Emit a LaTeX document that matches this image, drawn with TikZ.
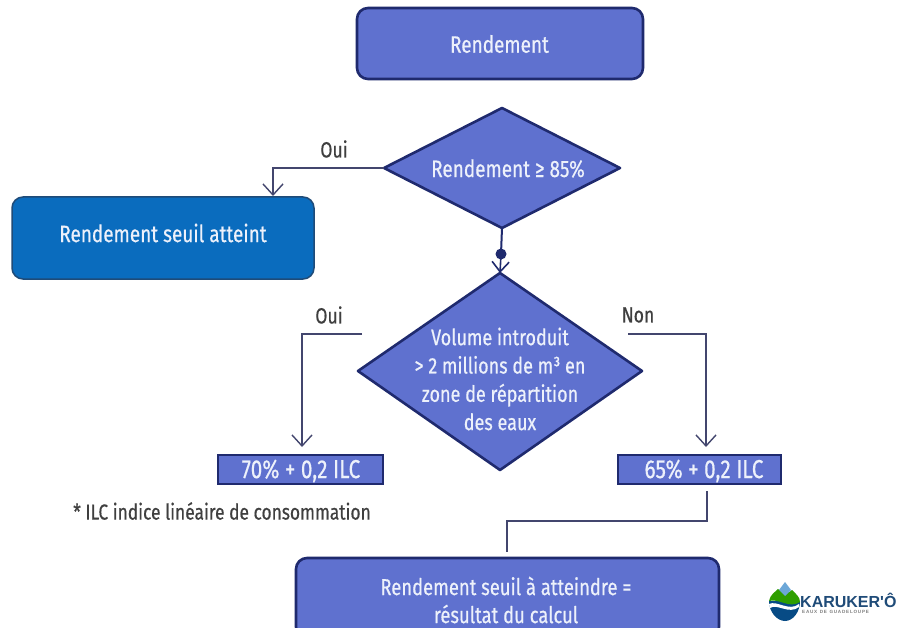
\documentclass[tikz,border=0pt]{standalone}
\usepackage{fontspec}
\setmainfont[FakeStretch=0.8,FakeBold=0.5]{Fira Sans}
\newfontfamily\logofont{Liberation Sans}
\usetikzlibrary{arrows.meta}
\definecolor{fillblue}{HTML}{5F71CF}
\definecolor{edgeblue}{HTML}{1F2A6E}
\definecolor{royal}{HTML}{0A6CBE}
\definecolor{royaledge}{HTML}{1F4B78}
\definecolor{linecol}{HTML}{43466E}
\definecolor{txtlight}{HTML}{EDF1FB}
\definecolor{labelcol}{HTML}{3F3F3F}
\tikzset{
  bluebox/.style={draw=edgeblue,line width=2.6pt,fill=fillblue,rounded corners=11pt,inner sep=0pt},
  flatbox/.style={draw=edgeblue,line width=2.6pt,fill=fillblue,inner sep=0pt},
  tealbox/.style={draw=royaledge,line width=1.5pt,fill=royal,rounded corners=11pt,inner sep=0pt},
  choiceline/.style={draw=edgeblue,line width=2.6pt,fill=fillblue,line join=round},
  lighttext/.style={text=txtlight,font=\fontsize{23.7}{28}\selectfont,align=center,inner sep=0pt},
  ilctext/.style={text=txtlight,font=\fontsize{26}{28}\selectfont,inner sep=0pt},
  link/.style={draw=linecol,line width=1.4pt},
  arrowlink/.style={link,-{Straight Barb[length=11pt,width=20pt,line width=1.4pt]}},
  caption/.style={text=labelcol,font=\fontsize{22}{24}\selectfont,inner sep=0pt},
}
\begin{document}
\begin{tikzpicture}[x=1pt,y=-1pt]
\useasboundingbox[fill=white] (0,0) rectangle (901,628);
% boxes
\node[bluebox,minimum width=286pt,minimum height=71pt] (start) at (500,43.5) {};
\node[lighttext] (starttxt) at (499.5,44) {Rendement};
\coordinate (d1l) at (384,168);\coordinate (d1t) at (502,108);\coordinate (d1r) at (620,168);\coordinate (d1b) at (502,228);
\draw[choiceline] (d1l)--(d1t)--(d1r)--(d1b)--cycle;
\node[lighttext] (d1txt) at (508,168.5) {Rendement ≥ 85\%};
\node[tealbox,minimum width=302pt,minimum height=82pt] (reached) at (163,238) {};
\node[lighttext] (reachedtxt) at (163,233) {Rendement seuil atteint};
\coordinate (d2l) at (358,371);\coordinate (d2t) at (500,273);\coordinate (d2r) at (642,371);\coordinate (d2b) at (500,470);
\draw[choiceline] (d2l)--(d2t)--(d2r)--(d2b)--cycle;
\node[lighttext,font=\fontsize{22.5}{28.3}\selectfont] (d2txt) at (500,379) {Volume introduit\\> 2 millions de m³ en\\zone de répartition\\des eaux};
\node[flatbox,minimum width=165pt,minimum height=29pt] (seventy) at (300.5,469.5) {};
\node[ilctext] (seventytxt) at (301,471) {70\% + 0,2 ILC};
\node[flatbox,minimum width=163pt,minimum height=29pt] (sixtyfive) at (699.5,469.5) {};
\node[ilctext] (sixtyfivetxt) at (704,471) {65\% + 0,2 ILC};
\node[bluebox,minimum width=423pt,minimum height=80pt] (result) at (507.5,598) {};
\node[lighttext,font=\fontsize{23}{28}\selectfont] (resulttxt) at (506,600) {Rendement seuil à atteindre =\\résultat du calcul};
% connectors
\coordinate (c1) at (273,168);
\coordinate (reachedtop) at (273,196);
\draw[arrowlink] (d1l) -- (c1) -- (reachedtop);
\coordinate (dd) at (501,254);
\draw[draw=edgeblue,line width=2pt] (d1b) -- (dd);
\draw[draw=edgeblue,line width=1.6pt,-{Straight Barb[length=10pt,width=17pt,line width=1.6pt]}] (dd) -- (d2t);
\fill[edgeblue] (dd) circle (5.5pt);
\coordinate (o1) at (362,334);\coordinate (o2) at (302,334);\coordinate (o3) at (302,447);
\draw[arrowlink] (o1) -- (o2) -- (o3);
\coordinate (n1) at (628,334);\coordinate (n2) at (706,334);\coordinate (n3) at (706,447);
\draw[arrowlink] (n1) -- (n2) -- (n3);
\coordinate (e1) at (707,491);\coordinate (e2) at (707,521);\coordinate (e3) at (507,521);\coordinate (e4) at (507,552);
\draw[link] (e1) -- (e2) -- (e3) -- (e4);
% labels
\node[caption] (oui1) at (334,149) {Oui};
\node[caption] (oui2) at (329,315) {Oui};
\node[caption] (non) at (638,315) {Non};
\node[caption,font=\fontsize{21.7}{24}\selectfont] (note) at (222,511) {* ILC indice linéaire de consommation};
% logo
\fill[royal!70!black] (769,601) .. controls (769,612) and (777,621) .. (785,621) .. controls (793,621) and (800,612) .. (800,601) -- cycle;
\fill[white] (769,604) .. controls (777,600) and (789,612) .. (799,604) -- (799,607) .. controls (789,615) and (777,603) .. (770,608) -- cycle;
\fill[green!55!olive!80!black] (769,601) .. controls (770,595) and (775,592) .. (778,589) .. controls (782,593) and (789,594) .. (792,590) .. controls (796,594) and (800,597) .. (800,602) .. controls (789,609) and (779,598) .. (769,601) -- cycle;
\fill[royal!60!white] (785,582) -- (791,590) -- (785,596) -- (779,590) -- cycle;
\node[text=royaledge,font=\logofont\bfseries\fontsize{16}{16}\selectfont,inner sep=0pt,anchor=west] (logotxt) at (800,600) {KARUKER'Ô};
\node[text=gray,font=\logofont\bfseries\fontsize{4.6}{5}\selectfont,inner sep=0pt,anchor=west] (logosub) at (802,612) {E\,A\,U\,X\ \ D\,E\ \ G\,U\,A\,D\,E\,L\,O\,U\,P\,E};
\end{tikzpicture}
\end{document}
